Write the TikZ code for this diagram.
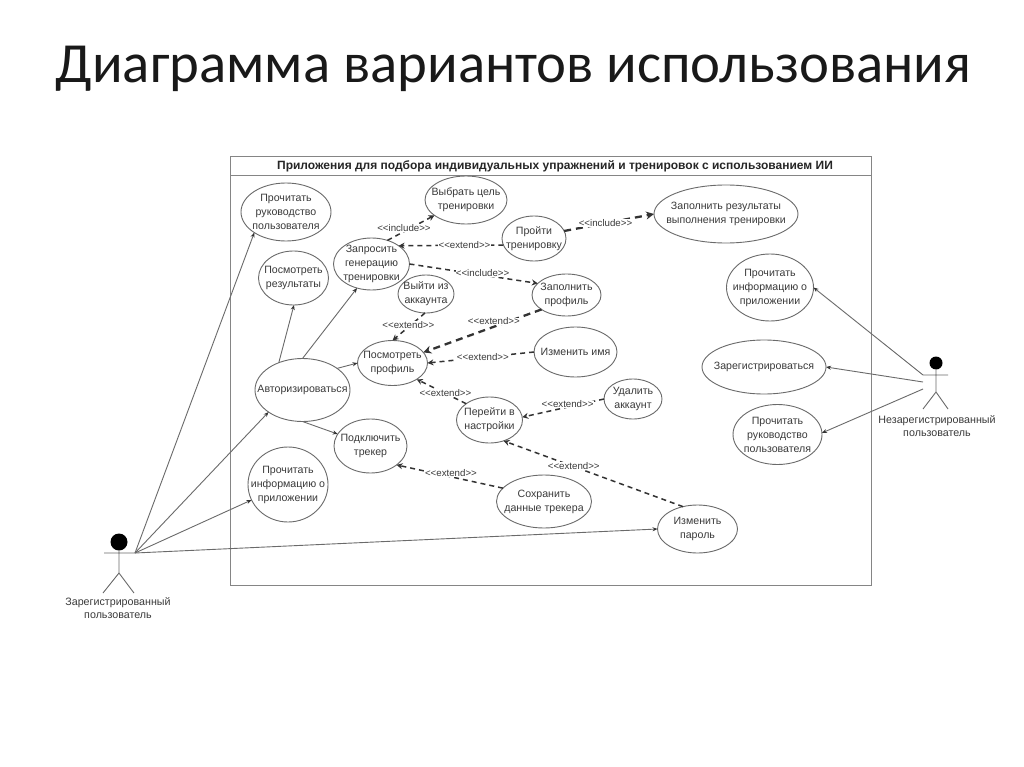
\documentclass[tikz,border=0pt]{standalone}
\usepackage{fontspec}
\setmainfont{Liberation Sans}
\newfontfamily\titlefont{Carlito}
\usetikzlibrary{shapes.geometric,arrows.meta}
\definecolor{ink}{HTML}{3A3A3A}
\definecolor{edgegray}{HTML}{6A6A6A}
\definecolor{framegray}{HTML}{858585}
\newcommand{\inc}{{<}{<}include{>}{>}}
\newcommand{\ext}{{<}{<}extend{>}{>}}
\tikzset{
  uctext/.style={text=ink,font=\fontsize{10.6}{14}\selectfont,align=center,inner sep=0pt},
  uc/.style 2 args={ellipse,draw=edgegray,line width=0.9pt,inner sep=0pt,outer sep=0pt,
    minimum width=#1*2pt,minimum height=#2*2pt},
  assoc/.style={draw=edgegray,line width=0.9pt,-{Stealth[length=5pt,width=4pt,color=black!80]}},
  dep/.style={draw=black!80,line width=1.5pt,dash pattern=on 5pt off 4pt,-{Stealth[length=6pt,width=6pt]}},
  depthick/.style={dep,line width=2.3pt,dash pattern=on 7pt off 5pt,-{Stealth[length=8pt,width=8pt]}},
  deplabel/.style={text=ink,font=\fontsize{9.7}{11}\selectfont,inner sep=0.4pt,fill=white},
  actorline/.style={draw=edgegray,line width=0.9pt},
  actorname/.style={text=ink,font=\fontsize{10.7}{13}\selectfont,align=center,inner sep=0pt},
}
\begin{document}
\begin{tikzpicture}[x=1pt,y=-1pt]
\useasboundingbox (0,0) rectangle (1024,767);
\fill[white] (0,0) rectangle (1024,767);
% title
\node[font=\titlefont\fontsize{56.7}{57}\selectfont,text=black!90,inner sep=0pt] (slidetitle) at (513.5,69) {Диаграмма вариантов использования};
% system frame
\draw[framegray,line width=1pt] (230,157) rectangle (871,585);
\draw[framegray,line width=0.9pt] (230,175) -- (871,175);
\node[font=\bfseries\fontsize{12}{14}\selectfont,text=black!85,inner sep=0pt] (frametitle) at (555,166) {Приложения для подбора индивидуальных упражнений и тренировок с использованием ИИ};
% use cases
\node[uc={45}{29},label={[uctext]center:Прочитать\\руководство\\пользователя}] (ruk) at (286,212) {};
\node[uc={35}{27},label={[uctext]center:Посмотреть\\результаты}] (res) at (293.5,278) {};
\node[uc={38}{26},label={[uctext]center:Запросить\\генерацию\\тренировки}] (zap) at (371.5,264) {};
\node[uc={41}{24},label={[uctext]center:Выбрать цель\\тренировки}] (vyb) at (466,200) {};
\node[uc={28}{19},label={[uctext]center:Выйти из\\аккаунта}] (vyi) at (426,294) {};
\node[uc={35}{22.5},label={[uctext]center:Посмотреть\\профиль}] (prof) at (392.5,363) {};
\node[uc={47.5}{31.5},label={[uctext]center:Авторизироваться}] (avt) at (302.5,390) {};
\node[uc={36.5}{27},label={[uctext]center:Подключить\\трекер}] (trek) at (370.5,446) {};
\node[uc={40}{37.5},label={[uctext]center:Прочитать\\информацию о\\приложении}] (infl) at (288,484.5) {};
\node[uc={33}{23},label={[uctext]center:Перейти в\\настройки}] (per) at (489.5,420) {};
\node[uc={47.5}{26.5},label={[uctext]center:Сохранить\\данные трекера}] (sokh) at (544,501.5) {};
\node[uc={40}{24},label={[uctext]center:Изменить\\пароль}] (par) at (697.5,529) {};
\node[uc={29}{20},label={[uctext]center:Удалить\\аккаунт}] (ud) at (633,399) {};
\node[uc={41.5}{25},label={[uctext]center:Изменить имя}] (izim) at (575.5,352) {};
\node[uc={34.5}{21},label={[uctext]center:Заполнить\\профиль}] (zapprof) at (566.5,295) {};
\node[uc={32}{22.5},label={[uctext]center:Пройти\\тренировку}] (proj) at (534,238.5) {};
\node[uc={72}{29},label={[uctext]center:Заполнить результаты\\выполнения тренировки}] (rez) at (726,214) {};
\node[uc={43.5}{33.5},label={[uctext]center:Прочитать\\информацию о\\приложении}] (infr) at (770,287.5) {};
\node[uc={62}{27},label={[uctext]center:Зарегистрироваться}] (reg) at (764,367) {};
\node[uc={44.5}{30},label={[uctext]center:Прочитать\\руководство\\пользователя}] (rukr) at (777.5,434.5) {};
% left actor
\node[circle,fill=black,inner sep=0pt,minimum size=17pt] (headl) at (119,542) {};
\draw[actorline] (headl.south) -- (119,573) -- (103,593) (119,573) -- (134,593) (104,553) -- (135,553);
\coordinate (lhand) at (135,553);
\node[actorname] (namel) at (118,608.5) {Зарегистрированный\\пользователь};
% right actor
\node[circle,fill=black,inner sep=0pt,minimum size=13pt] (headr) at (936,363) {};
\draw[actorline] (headr.south) -- (936,392) -- (923,409) (936,392) -- (948,409) (923,375) -- (948,375);
\coordinate (rh1) at (923,375);
\coordinate (rh2) at (923,382);
\coordinate (rh3) at (923,389);
\node[actorname] (namer) at (937,426.5) {Незарегистрированный\\пользователь};
% associations
\draw[assoc] (lhand) -- (ruk.213);
\draw[assoc] (lhand) -- (avt.213);
\draw[assoc] (lhand) -- (infl.203);
\draw[assoc] (lhand) -- (par.180);
\draw[assoc] (avt.131) -- (res.271);
\draw[assoc] (avt.90) -- (zap.239);
\draw[assoc] (avt.32.5) -- (prof.180);
\draw[assoc] (avt.270) -- (trek.160);
\draw[assoc] (rh1) -- (infr.0);
\draw[assoc] (rh2) -- (reg.0);
\draw[assoc] (rh3) -- (rukr.2);
% dependencies
\draw[dep] (zap.56) -- node[deplabel,xshift=-7pt] {\inc} (vyb.206.6);
\draw[dep] (proj.192.6) -- node[deplabel,pos=0.39,xshift=2pt] {\ext} (zap.34.6);
\draw[dep] (zap.0) -- node[deplabel,pos=0.57,yshift=2pt] {\inc} (zapprof.158);
\draw[depthick] (proj.14.5) -- node[deplabel,pos=0.46] {\inc} (rez.180);
\draw[dep] (vyi.267) -- node[deplabel,pos=0.42,xshift=-3pt] {\ext} (prof.90);
\draw[depthick] (zapprof.210.8) -- node[deplabel,pos=0.42,xshift=2pt,yshift=6pt] {\ext} (prof.19.8);
\draw[dep] (izim.180) -- node[deplabel,pos=0.48] {\ext} (prof.0);
\draw[dep] (per.145.7) -- node[deplabel,pos=0.42] {\ext} (prof.326.3);
\draw[dep] (ud.180) -- node[deplabel,pos=0.47,xshift=2pt,yshift=3pt] {\ext} (per.5);
\draw[dep] (par.123.4) -- node[deplabel,pos=0.62,xshift=2pt] {\ext} (per.304);
\draw[dep] (sokh.162) -- node[deplabel,pos=0.47,xshift=-2pt,yshift=4pt] {\ext} (trek.324.4);
\end{tikzpicture}
\end{document}
